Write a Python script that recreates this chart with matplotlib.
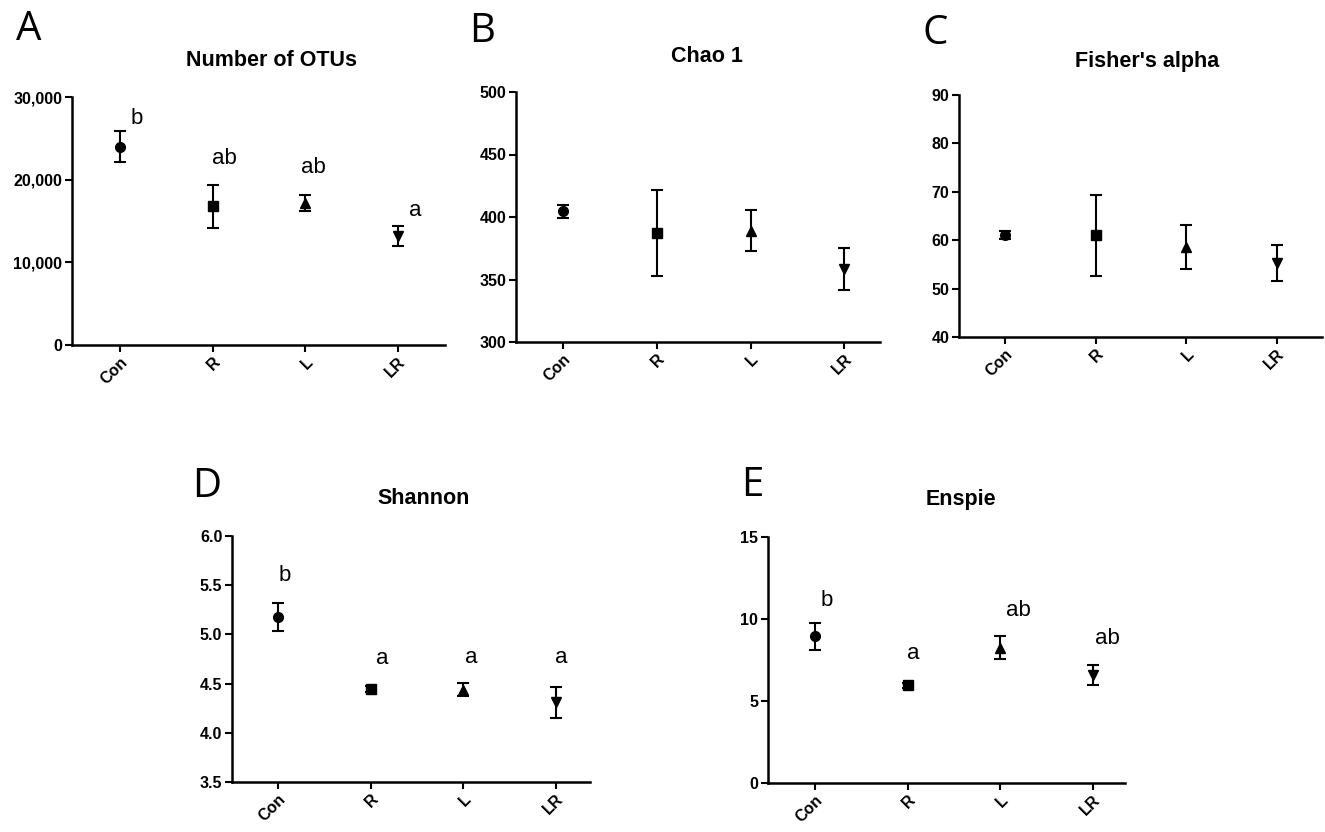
import matplotlib
matplotlib.use("Agg")
import matplotlib.pyplot as plt
from matplotlib.ticker import FuncFormatter
import matplotlib.transforms as mtrans

plt.rcParams['font.family'] = ['Liberation Sans', 'DejaVu Sans']

groups = ["Con", "R", "L", "LR"]
markers = ["o", "s", "^", "v"]

# Panel A: Number of OTUs
otu_mean = [24000, 16800, 17200, 13200]
otu_err = [1850, 2600, 950, 1250]
otu_letters = ["b", "ab", "ab", "a"]
otu_letter_y = [27400, 22600, 21500, 16300]

# Panel B: Chao 1
chao_mean = [404.5, 387.5, 389, 358.5]
chao_err = [5, 34.5, 16.5, 16.5]

# Panel C: Fisher's alpha
fisher_mean = [61.0, 61.0, 58.6, 55.3]
fisher_err = [0.8, 8.3, 4.5, 3.7]

# Panel D: Shannon
shannon_mean = [5.175, 4.445, 4.44, 4.31]
shannon_err = [0.145, 0.035, 0.065, 0.16]
shannon_letters = ["b", "a", "a", "a"]
shannon_letter_y = [5.6, 4.75, 4.77, 4.77]

# Panel E: Enspie
enspie_mean = [8.94, 5.96, 8.25, 6.6]
enspie_err = [0.82, 0.15, 0.7, 0.62]
enspie_letters = ["b", "a", "ab", "ab"]
enspie_letter_y = [11.1, 7.9, 10.5, 8.8]

W, H = 1325, 832
fig = plt.figure(figsize=(W / 100, H / 100), dpi=100)


def make_axes(left, right, top, bottom):
    return fig.add_axes([left / W, 1 - bottom / H, (right - left) / W, (bottom - top) / H])


def style(ax, ylim, yticks, xlim, fmt=None):
    ax.set_ylim(*ylim)
    ax.set_yticks(yticks)
    ax.set_xlim(*xlim)
    ax.set_xticks(range(len(groups)))
    ax.set_xticklabels(groups, rotation=45, ha='right', va='top',
                       rotation_mode='anchor', fontweight='bold', fontsize=11.5)
    for lab in ax.get_xticklabels():
        lab.set_transform(lab.get_transform() + mtrans.ScaledTranslation(6 / 72, -2 / 72, fig.dpi_scale_trans))
    for s in ['top', 'right']:
        ax.spines[s].set_visible(False)
    for s in ['left', 'bottom']:
        ax.spines[s].set_linewidth(1.8)
    ax.tick_params(axis='both', width=1.5, length=5, direction='out', pad=2)
    ax.tick_params(axis='y', labelsize=11.5)
    for lab in ax.get_yticklabels():
        lab.set_fontweight('bold')
    if fmt is not None:
        ax.yaxis.set_major_formatter(fmt)
    ax.patch.set_alpha(0)


def draw(ax, mean, err):
    for i in range(len(groups)):
        ax.errorbar(i, mean[i], yerr=err[i], fmt=markers[i], color='black',
                    markersize=7, capsize=4.5, elinewidth=1.5, capthick=1.5)


def letters(ax, labels, ys, offsets):
    for i, (lab, y) in enumerate(zip(labels, ys)):
        ax.text(i + offsets[i], y, lab, fontsize=16, ha='center', va='center')


comma = FuncFormatter(lambda v, p: f"{int(v):,}")
one_dec = FuncFormatter(lambda v, p: f"{v:.1f}")

# A
axA = make_axes(72, 445, 97, 345)
draw(axA, otu_mean, otu_err)
style(axA, (0, 30000), [0, 10000, 20000, 30000], (-0.52, 3.51), comma)
letters(axA, otu_letters, otu_letter_y, [0.18, 0.13, 0.09, 0.19])

# B
axB = make_axes(516, 880, 92, 342)
draw(axB, chao_mean, chao_err)
style(axB, (300, 500), [300, 350, 400, 450, 500], (-0.5, 3.38))

# C
axC = make_axes(959, 1322, 95, 337)
draw(axC, fisher_mean, fisher_err)
style(axC, (40, 90), [40, 50, 60, 70, 80, 90], (-0.51, 3.5))

# D
axD = make_axes(232, 590, 536, 782)
draw(axD, shannon_mean, shannon_err)
style(axD, (3.5, 6.0), [3.5, 4.0, 4.5, 5.0, 5.5, 6.0], (-0.5, 3.37), one_dec)
letters(axD, shannon_letters, shannon_letter_y, [0.07, 0.12, 0.09, 0.06])

# E
axE = make_axes(768, 1125, 537, 783)
draw(axE, enspie_mean, enspie_err)
style(axE, (0, 15), [0, 5, 10, 15], (-0.51, 3.35))
letters(axE, enspie_letters, enspie_letter_y, [0.13, 0.06, 0.2, 0.16])

# Titles
titles = [("Number of OTUs", 272, 60), ("Chao 1", 707, 56), ("Fisher's alpha", 1147, 61),
          ("Shannon", 424, 499), ("Enspie", 961, 500)]
for t, x, y in titles:
    fig.text(x / W, 1 - y / H, t, fontsize=15.5, fontweight='bold', ha='center', va='center')

# Panel letters
panels = [("A", 29, 30), ("B", 482, 32), ("C", 935, 34), ("D", 207, 487), ("E", 752, 486)]
for t, x, y in panels:
    fig.text(x / W, 1 - y / H, t, fontsize=29, ha='center', va='center',
             family=['Open Sans', 'DejaVu Sans'])

fig.savefig("out.png", dpi=100, facecolor='white')
